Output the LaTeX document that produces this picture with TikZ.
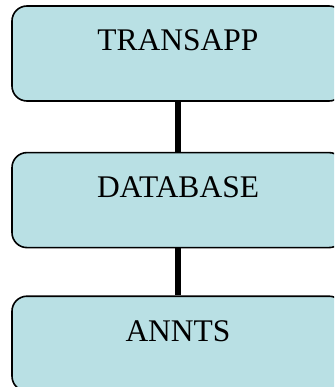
\documentclass[tikz,border=0pt]{standalone}
\usepackage{fontspec}
\setmainfont{Liberation Serif}
\usepackage{tikz}
\usetikzlibrary{positioning}
\usepackage{xcolor}
\definecolor{boxfill}{RGB}{185,224,228}

\begin{document}
\begin{tikzpicture}[
    x=1pt, y=1pt,
    appbox/.style={draw=black, line width=1.6pt, rounded corners=15pt, fill=boxfill,
                   minimum width=332pt, inner sep=0pt, text height=45pt, text depth=50pt,
                   font=\fontsize{31.5}{36}\selectfont},
    link/.style={draw=black, line width=5.5pt},
]
\useasboundingbox (0,0) rectangle (334,-387);
\clip (0,0) rectangle (334,-387);

\node[appbox] (transapp) at (178,-53.5) {TRANSAPP};
\node[appbox, below=50pt of transapp] (database) {DATABASE};
\node[appbox, below=47pt of database] (annts) {ANNTS};

% ===== LINKS =====
\draw[link] (transapp.south) -- (database.north);
\draw[link] (database.south) -- (annts.north);

\end{tikzpicture}
\end{document}
